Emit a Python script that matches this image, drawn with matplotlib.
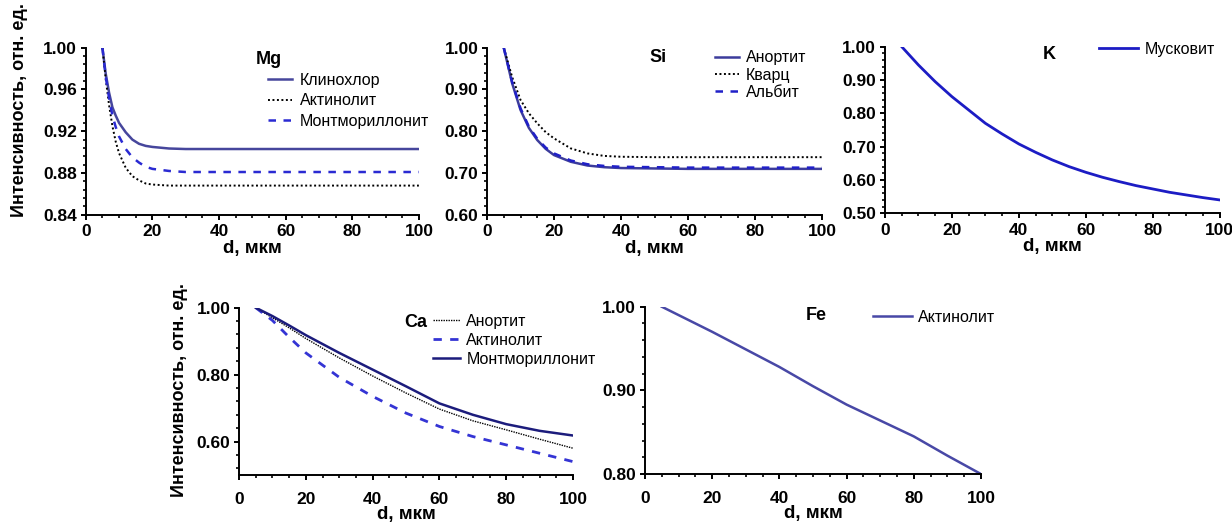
import matplotlib
matplotlib.use("Agg")
import matplotlib.pyplot as plt
from matplotlib.ticker import MultipleLocator, FormatStrFormatter

plt.rcParams['font.family'] = ['Liberation Sans', 'DejaVu Sans']

# Mg
mg_x = [5, 6, 7, 8, 9, 10, 12, 14, 16, 18, 20, 25, 30, 40, 50, 60, 70, 80, 90, 100]
mg_klinochlor = [1.0, 0.975, 0.957, 0.943, 0.935, 0.928, 0.919, 0.912, 0.908, 0.906,
                 0.905, 0.9035, 0.903, 0.903, 0.903, 0.903, 0.903, 0.903, 0.903, 0.903]
mg_actinolite = [1.0, 0.970, 0.945, 0.925, 0.910, 0.899, 0.885, 0.877, 0.873, 0.870,
                 0.869, 0.868, 0.868, 0.868, 0.868, 0.868, 0.868, 0.868, 0.868, 0.868]
mg_montmor = [1.0, 0.972, 0.952, 0.935, 0.924, 0.915, 0.903, 0.895, 0.890, 0.886,
              0.884, 0.882, 0.881, 0.881, 0.881, 0.881, 0.881, 0.881, 0.881, 0.881]

# Si
si_x = [5, 7.5, 10, 12.5, 15, 17.5, 20, 25, 30, 35, 40, 50, 60, 70, 80, 90, 100]
si_anorthite = [1.0, 0.915, 0.851, 0.808, 0.779, 0.758, 0.743, 0.727, 0.718, 0.714,
                0.712, 0.711, 0.710, 0.710, 0.710, 0.710, 0.710]
si_quartz = [1.0, 0.930, 0.875, 0.843, 0.819, 0.798, 0.783, 0.759, 0.747, 0.741,
             0.739, 0.738, 0.738, 0.738, 0.738, 0.738, 0.738]
si_albite = [1.0, 0.918, 0.855, 0.811, 0.782, 0.761, 0.747, 0.730, 0.721, 0.717,
             0.715, 0.714, 0.713, 0.713, 0.713, 0.713, 0.713]

# K
k_x = [5, 10, 15, 20, 25, 30, 35, 40, 45, 50, 55, 60, 65, 70, 75, 80, 85, 90, 95, 100]
k_muscovite = [1.0, 0.945, 0.895, 0.850, 0.810, 0.770, 0.738, 0.708, 0.683, 0.660,
               0.640, 0.623, 0.608, 0.595, 0.583, 0.573, 0.563, 0.555, 0.547, 0.540]

# Ca
ca_x = [5, 10, 15, 20, 30, 40, 50, 60, 70, 80, 90, 100]
ca_anorthite = [1.0, 0.970, 0.940, 0.908, 0.850, 0.796, 0.745, 0.697, 0.662, 0.635, 0.607, 0.580]
ca_actinolite = [1.0, 0.962, 0.912, 0.865, 0.792, 0.735, 0.685, 0.645, 0.615, 0.590, 0.565, 0.540]
ca_montmor = [1.0, 0.975, 0.947, 0.918, 0.865, 0.815, 0.765, 0.714, 0.680, 0.652, 0.632, 0.618]

# Fe
fe_x = [5, 10, 20, 30, 40, 50, 60, 70, 80, 90, 100]
fe_actinolite = [1.0, 0.990, 0.970, 0.949, 0.928, 0.905, 0.883, 0.864, 0.845, 0.822, 0.800]

dot = (0, (1, 1.3))
fs_tick = 12.5
fs_leg = 11.5


def style(ax, ylim, major, minor, xpad, lpad):
    ax.set_xlim(0, 100)
    ax.set_ylim(*ylim)
    for s in ['top', 'right']:
        ax.spines[s].set_visible(False)
    for s in ['left', 'bottom']:
        ax.spines[s].set_linewidth(1.4)
    ax.xaxis.set_major_locator(MultipleLocator(20))
    ax.xaxis.set_minor_locator(MultipleLocator(5))
    ax.yaxis.set_major_locator(MultipleLocator(major))
    ax.yaxis.set_minor_locator(MultipleLocator(minor))
    ax.yaxis.set_major_formatter(FormatStrFormatter('%.2f'))
    ax.tick_params(which='major', direction='out', length=3.8, width=1.4,
                   labelsize=fs_tick)
    ax.tick_params(which='minor', direction='out', length=2.5, width=1.2)
    ax.tick_params(axis='y', which='major', pad=2.5)
    ax.tick_params(axis='x', which='major', pad=xpad)
    for lab in ax.get_xticklabels() + ax.get_yticklabels():
        lab.set_fontweight('bold')
    ax.set_xlabel('d, мкм', fontsize=13.5, fontweight='bold', labelpad=lpad)


fig = plt.figure(figsize=(12.32, 5.24), dpi=100)

ax1 = fig.add_axes([0.0696, 0.590, 0.2704, 0.319])
ax1.plot(mg_x, mg_klinochlor, color='#46469c', lw=1.8, label='Клинохлор')
ax1.plot(mg_x, mg_actinolite, color='black', lw=1.4, ls=dot, label='Актинолит')
ax1.plot(mg_x, mg_montmor, color='#2a2ad2', lw=1.8, ls=(0, (3, 3)), label='Монтмориллонит')
style(ax1, (0.84, 1.0), 0.04, 0.008, 3, 0.5)
ax1.text(0.55, 0.93, 'Mg', transform=ax1.transAxes, fontsize=13, fontweight='bold',
         ha='center', va='center')
ax1.legend(loc='upper left', bbox_to_anchor=(0.548, 0.85), frameon=False,
           fontsize=fs_leg, handlelength=1.5, handletextpad=0.5,
           labelspacing=0.35, borderaxespad=0, borderpad=0)

ax2 = fig.add_axes([0.3953, 0.590, 0.2719, 0.319])
ax2.plot(si_x, si_anorthite, color='#3c3c9c', lw=1.8, label='Анортит')
ax2.plot(si_x, si_quartz, color='black', lw=1.4, ls=dot, label='Кварц')
ax2.plot(si_x, si_albite, color='#2020c8', lw=1.8, ls=(0, (3, 3)), label='Альбит')
style(ax2, (0.6, 1.0), 0.1, 0.02, 3, 0.5)
ax2.text(0.51, 0.94, 'Si', transform=ax2.transAxes, fontsize=13, fontweight='bold',
         ha='center', va='center')
ax2.legend(loc='upper left', bbox_to_anchor=(0.68, 0.985), frameon=False,
           fontsize=fs_leg, handlelength=1.5, handletextpad=0.45,
           labelspacing=0.15, borderaxespad=0, borderpad=0)

ax3 = fig.add_axes([0.7183, 0.593, 0.2717, 0.318])
ax3.plot(k_x, k_muscovite, color='#1c1cc4', lw=2.0, label='Мусковит')
style(ax3, (0.5, 1.0), 0.1, 0.02, 3, 0.5)
ax3.text(0.49, 0.95, 'K', transform=ax3.transAxes, fontsize=13, fontweight='bold',
         ha='center', va='center')
ax3.legend(loc='upper left', bbox_to_anchor=(0.64, 1.03), frameon=False,
           fontsize=fs_leg, handlelength=2.4, handletextpad=0.45,
           borderaxespad=0, borderpad=0)

ax4 = fig.add_axes([0.194, 0.0935, 0.2711, 0.3193])
ax4.plot(ca_x, ca_anorthite, color='black', lw=1.0, ls=(0, (1, 0.8)), label='Анортит')
ax4.plot(ca_x, ca_actinolite, color='#3434d4', lw=2.0, ls=(0, (3, 3)), label='Актинолит')
ax4.plot(ca_x, ca_montmor, color='#1c1c7c', lw=1.8, label='Монтмориллонит')
style(ax4, (0.5, 1.0), 0.2, 0.04, 8.5, -1)
ax4.text(0.53, 0.91, 'Ca', transform=ax4.transAxes, fontsize=13, fontweight='bold',
         ha='center', va='center')
ax4.legend(loc='upper left', bbox_to_anchor=(0.58, 0.965), frameon=False,
           fontsize=fs_leg, handlelength=1.7, handletextpad=0.4,
           labelspacing=0.25, borderaxespad=0, borderpad=0)

ax5 = fig.add_axes([0.5235, 0.0954, 0.2727, 0.3193])
ax5.plot(fe_x, fe_actinolite, color='#4848a6', lw=1.8, label='Актинолит')
style(ax5, (0.8, 1.0), 0.1, 0.02, 8.5, -1)
ax5.text(0.51, 0.95, 'Fe', transform=ax5.transAxes, fontsize=13, fontweight='bold',
         ha='center', va='center')
ax5.legend(loc='upper left', bbox_to_anchor=(0.68, 0.98), frameon=False,
           fontsize=fs_leg, handlelength=2.4, handletextpad=0.4,
           borderaxespad=0, borderpad=0)

fig.text(20 / 1232, 0.79, 'Интенсивность, отн. ед.', rotation=90, fontsize=13,
         fontweight='bold', ha='center', va='center')
fig.text(180 / 1232, 0.255, 'Интенсивность, отн. ед.', rotation=90, fontsize=13,
         fontweight='bold', ha='center', va='center')

fig.savefig('out.png', dpi=100)
